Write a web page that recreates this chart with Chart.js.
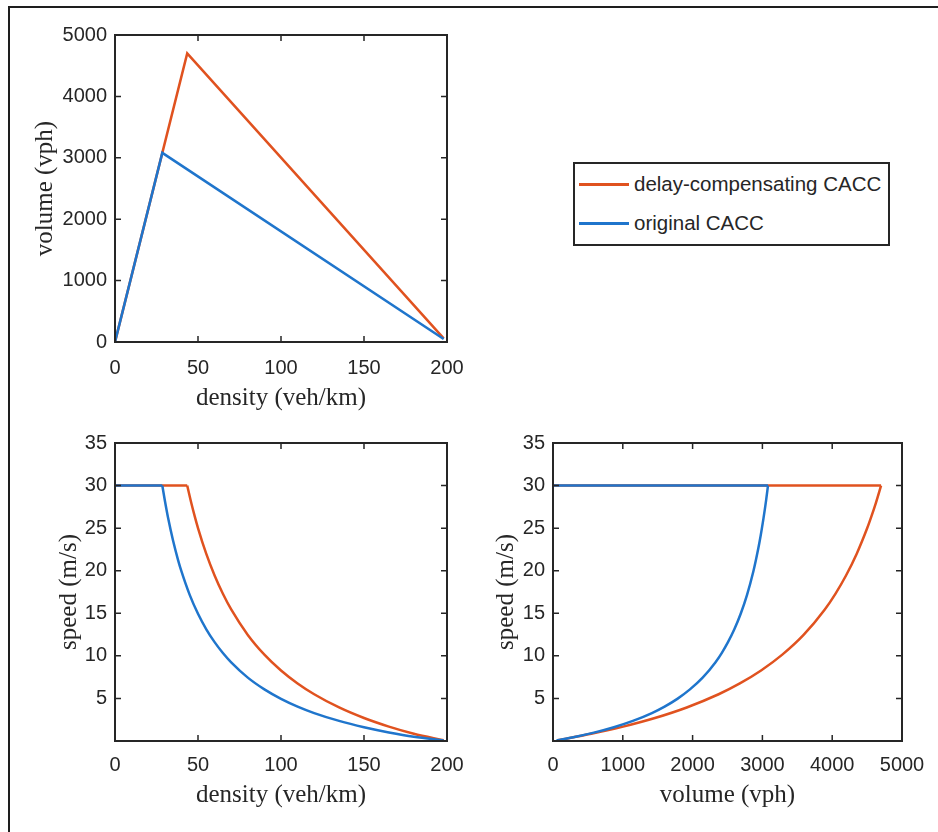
<!DOCTYPE html>
<html>
<head>
<meta charset="utf-8">
<script src="https://cdn.jsdelivr.net/npm/chart.js@4.4.1/dist/chart.umd.min.js"></script>
<style>
  body { margin: 0; background: #fff; width: 938px; height: 832px; position: relative; overflow: hidden; }
  .frame { position: absolute; left: 8px; top: 6px; width: 960px; height: 900px; border-left: 2px solid #1e1e1e; border-top: 2px solid #1e1e1e; }
  canvas { position: absolute; }
  #legend { position: absolute; left: 573px; top: 162px; width: 313px; height: 80px; border: 2px solid #262626; background: #fff;
            font-family: 'Liberation Sans', Arial, sans-serif; font-size: 20.5px; color: #262626; }
  .item { position: absolute; left: 4px; height: 24px; display: flex; align-items: center; }
  .swatch { width: 50px; height: 3px; margin-right: 5px; }
</style>
</head>
<body>
<div class="frame"></div>
<canvas id="flow" width="480" height="420" style="left:0;top:0"></canvas>
<canvas id="speedDensity" width="480" height="412" style="left:0;top:420px"></canvas>
<canvas id="speedVolume" width="468" height="412" style="left:470px;top:420px"></canvas>
<div id="legend">
  <div class="item" style="top:8px"><div class="swatch" style="background:#e0521f"></div>delay-compensating CACC</div>
  <div class="item" style="top:47px"><div class="swatch" style="background:#1f75cc"></div>original CACC</div>
</div>
<script>
// series labels and colours
const seriesNames = ['original CACC', 'delay-compensating CACC'];
const blueColor = '#1f75cc';
const orangeColor = '#e0521f';
const axisColor = '#262626';

// volume vs density (top left)
const blueFlowDensity = [0, 28.5, 198];
const blueFlowVolume = [0, 3080, 50];
const orangeFlowDensity = [0, 43.5, 198];
const orangeFlowVolume = [0, 4700, 60];

// free-flow part (speed stays at 30 m/s)
const blueFreeDensity = [0, 28.5];
const blueFreeVolume = [0, 3080];
const orangeFreeDensity = [0, 43.5];
const orangeFreeVolume = [0, 4700];
const freeSpeed = [30, 30];

// congested part, original CACC: density, speed, volume
const blueDensity = [28.5, 30, 32, 35, 38, 40, 45, 50, 55, 60, 65, 70, 80, 90, 100, 110, 120, 135, 150, 165, 180, 198];
const blueSpeed = [30, 28.27, 26.18, 23.51, 21.25, 19.94, 17.16, 14.94, 13.12, 11.61, 10.33, 9.23, 7.44, 6.06, 4.95, 4.04, 3.28, 2.36, 1.62, 1.01, 0.5, 0.07];
const blueVolume = [3080, 3053, 3016, 2962, 2907, 2871, 2780, 2689, 2598, 2507, 2417, 2326, 2144, 1962, 1781, 1599, 1417, 1145, 872, 600, 327, 50];

// congested part, delay-compensating CACC
const orangeDensity = [43.5, 46, 48, 50, 55, 60, 65, 70, 80, 90, 100, 110, 120, 135, 150, 165, 180, 198];
const orangeSpeed = [30, 27.92, 26.41, 25.01, 21.97, 19.44, 17.29, 15.45, 12.46, 10.14, 8.28, 6.76, 5.49, 3.94, 2.7, 1.69, 0.85, 0.08];
const orangeVolume = [4700, 4624, 4563, 4502, 4350, 4198, 4046, 3894, 3590, 3285, 2981, 2677, 2373, 1916, 1460, 1004, 548, 60];

// axis limits and tick steps
const densityTicks = { min: 0, max: 200, step: 50 };
const volumeTicks = { min: 0, max: 5000, step: 1000 };
const speedTicks = { min: 0, max: 35, step: 5 };

Chart.defaults.font.family = "'Liberation Sans', Arial, sans-serif";
Chart.defaults.font.size = 20;
Chart.defaults.color = axisColor;

const pts = (xs, ys) => xs.map((x, i) => ({ x: x, y: ys[i] }));
// ascending x order for the monotone spline
const ptsAsc = (xs, ys) => pts(xs, ys).sort((a, b) => a.x - b.x);

// MATLAB-like box with inward ticks on all sides
const boxTicks = {
  id: 'boxTicks',
  afterDraw(chart) {
    const { ctx, chartArea: a, scales } = chart;
    const len = 6;
    ctx.save();
    ctx.strokeStyle = axisColor;
    ctx.lineWidth = 1.5;
    scales.x.ticks.forEach(t => {
      const px = scales.x.getPixelForValue(t.value);
      if (px <= a.left + 1 || px >= a.right - 1) return;
      ctx.beginPath();
      ctx.moveTo(px, a.bottom); ctx.lineTo(px, a.bottom - len);
      ctx.moveTo(px, a.top); ctx.lineTo(px, a.top + len);
      ctx.stroke();
    });
    scales.y.ticks.forEach(t => {
      const py = scales.y.getPixelForValue(t.value);
      if (py <= a.top + 1 || py >= a.bottom - 1) return;
      ctx.beginPath();
      ctx.moveTo(a.left, py); ctx.lineTo(a.left + len, py);
      ctx.moveTo(a.right, py); ctx.lineTo(a.right - len, py);
      ctx.stroke();
    });
    ctx.lineWidth = 2;
    ctx.strokeRect(a.left, a.top, a.right - a.left, a.bottom - a.top);
    ctx.restore();
  }
};

const titleFont = { family: "'Liberation Serif', 'Times New Roman', serif", size: 25 };

function makeChart(id, datasets, xr, yr, opts) {
  return new Chart(document.getElementById(id), {
    type: 'line',
    data: { datasets: datasets },
    options: {
      responsive: false,
      animation: false,
      layout: { padding: opts.padding },
      elements: { point: { radius: 0 }, line: { borderWidth: 2.5, tension: 0 } },
      plugins: { legend: { display: false }, tooltip: { enabled: false } },
      scales: {
        x: {
          type: 'linear', min: xr.min, max: xr.max,
          grid: { display: false, drawTicks: false },
          border: { display: false },
          ticks: { stepSize: xr.step, padding: opts.xTickPad, maxRotation: 0, callback: v => String(v) },
          title: { display: true, text: opts.xTitle, color: axisColor, font: titleFont,
                   padding: { top: 0, bottom: opts.xTitlePad } },
          afterFit: s => { s.height = opts.xHeight; }
        },
        y: {
          type: 'linear', min: yr.min, max: yr.max,
          grid: { display: false, drawTicks: false },
          border: { display: false },
          ticks: { stepSize: yr.step, padding: 8,
                   callback: v => (opts.hideZero && v === 0) ? '' : String(v) },
          title: { display: true, text: opts.yTitle, color: axisColor, font: titleFont,
                   padding: { top: opts.yTitlePad, bottom: 0 } },
          afterFit: s => { s.width = opts.yWidth; }
        }
      }
    },
    plugins: [boxTicks]
  });
}

// blue listed first so it is drawn on top
makeChart('flow', [
  { label: seriesNames[0], data: pts(blueFlowDensity, blueFlowVolume), borderColor: blueColor },
  { label: seriesNames[1], data: pts(orangeFlowDensity, orangeFlowVolume), borderColor: orangeColor }
], densityTicks, volumeTicks, {
  padding: { left: 0, top: 35, right: 33, bottom: 0 },
  xHeight: 78, yWidth: 115, xTickPad: 14, xTitlePad: 7, yTitlePad: 30,
  xTitle: 'density (veh/km)', yTitle: 'volume (vph)', hideZero: false
});

const curve = { cubicInterpolationMode: 'monotone' };

makeChart('speedDensity', [
  { label: seriesNames[0], data: pts(blueFreeDensity, freeSpeed), borderColor: blueColor },
  Object.assign({ label: seriesNames[0], data: ptsAsc(blueDensity, blueSpeed), borderColor: blueColor }, curve),
  { label: seriesNames[1], data: pts(orangeFreeDensity, freeSpeed), borderColor: orangeColor },
  Object.assign({ label: seriesNames[1], data: ptsAsc(orangeDensity, orangeSpeed), borderColor: orangeColor }, curve)
], densityTicks, speedTicks, {
  padding: { left: 0, top: 23, right: 33, bottom: 0 },
  xHeight: 91, yWidth: 115, xTickPad: 12, xTitlePad: 22, yTitlePad: 54,
  xTitle: 'density (veh/km)', yTitle: 'speed (m/s)', hideZero: true
});

makeChart('speedVolume', [
  { label: seriesNames[0], data: pts(blueFreeVolume, freeSpeed), borderColor: blueColor },
  Object.assign({ label: seriesNames[0], data: ptsAsc(blueVolume, blueSpeed), borderColor: blueColor }, curve),
  { label: seriesNames[1], data: pts(orangeFreeVolume, freeSpeed), borderColor: orangeColor },
  Object.assign({ label: seriesNames[1], data: ptsAsc(orangeVolume, orangeSpeed), borderColor: orangeColor }, curve)
], volumeTicks, speedTicks, {
  padding: { left: 0, top: 23, right: 36, bottom: 0 },
  xHeight: 91, yWidth: 83, xTickPad: 12, xTitlePad: 22, yTitlePad: 21,
  xTitle: 'volume (vph)', yTitle: 'speed (m/s)', hideZero: true
});
</script>
</body>
</html>
